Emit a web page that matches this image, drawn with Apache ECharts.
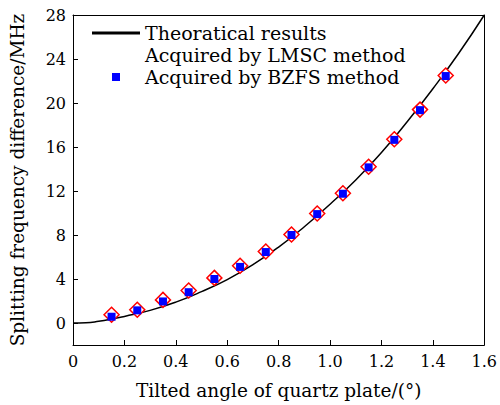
<!DOCTYPE html>
<html>
<head>
<meta charset="utf-8">
<script src="https://cdn.jsdelivr.net/npm/echarts@6/dist/echarts.min.js"></script>
<style>html,body{margin:0;padding:0;background:#fff}#c{width:500px;height:405px}</style>
</head>
<body>
<div id="c"></div>
<script>
const curveX = [0, 0.05, 0.1, 0.15, 0.2, 0.3, 0.4, 0.5, 0.6, 0.7, 0.8, 0.9, 1.0, 1.1, 1.2, 1.3, 1.4, 1.5, 1.6];
const curveY = [0, 0.02, 0.15, 0.35, 0.6, 1.15, 1.9, 2.85, 3.95, 5.3, 6.9, 8.75, 10.8, 13.0, 15.5, 18.3, 21.3, 24.5, 28];
const angles = [0.15, 0.25, 0.35, 0.45, 0.55, 0.65, 0.75, 0.85, 0.95, 1.05, 1.15, 1.25, 1.35, 1.45];
const lmsc = [0.75, 1.2, 2.1, 2.95, 4.1, 5.2, 6.5, 8.05, 9.95, 11.8, 14.2, 16.7, 19.4, 22.5];
const bzfs = [0.57, 1.15, 1.96, 2.8, 4.0, 5.1, 6.45, 8.0, 9.9, 11.75, 14.15, 16.65, 19.35, 22.45];
const yTicks = [0, 4, 8, 12, 16, 20, 24, 28];
const names = ['Theoratical results', 'Acquired by LMSC method', 'Acquired by BZFS method'];

const font = 'DejaVu Serif';
const chart = echarts.init(document.getElementById('c'), null, { renderer: 'svg' });
const frameAxis = { show: true, axisLine: { show: true, onZero: false, lineStyle: { color: '#000', width: 1 } },
  axisTick: { show: false }, axisLabel: { show: false }, splitLine: { show: false } };
chart.setOption({
  animation: false,
  grid: { left: 71, right: 13, top: 15, bottom: 59 },
  legend: {
    orient: 'vertical', left: 86, top: 17, itemWidth: 48, itemHeight: 8, itemGap: 0,
    symbolKeepAspect: true,
    data: [
      { name: names[0], icon: 'path://M0,0h48v3h-48z', itemStyle: { color: '#000' } },
      { name: names[1], itemStyle: { opacity: 0 } },
      { name: names[2], icon: 'path://M0,0h8v8h-8z', itemStyle: { color: '#0000ff', opacity: 1 } }
    ],
    textStyle: { fontFamily: font, fontSize: 19, lineHeight: 22, color: '#000', padding: [0, 0, 0, 0] }
  },
  xAxis: [{
    type: 'value', min: 0, max: 1.6, interval: 0.2,
    name: 'Tilted angle of quartz plate/(°)', nameLocation: 'middle', nameGap: 36,
    nameTextStyle: { fontFamily: font, fontSize: 18.5, color: '#000' },
    axisLine: { show: true, onZero: false, lineStyle: { color: '#000' } },
    axisTick: { show: true, inside: true, length: 5, lineStyle: { color: '#000' } },
    axisLabel: { fontFamily: font, fontSize: 16, color: '#000', margin: 8,
      formatter: v => v === 0 ? '0' : v.toFixed(1) },
    splitLine: { show: false }
  }, Object.assign({ type: 'value', position: 'top', min: 0, max: 1.6 }, frameAxis)],
  yAxis: [{
    type: 'value', min: -2, max: 28,
    name: 'Splitting frequency difference/MHz', nameLocation: 'middle', nameGap: 46,
    nameTextStyle: { fontFamily: font, fontSize: 18.5, color: '#000' },
    axisLine: { show: true, onZero: false, lineStyle: { color: '#000' } },
    axisTick: { show: true, inside: true, length: 5, customValues: yTicks, lineStyle: { color: '#000' } },
    axisLabel: { fontFamily: font, fontSize: 16, color: '#000', margin: 7, customValues: yTicks },
    splitLine: { show: false }
  }, Object.assign({ type: 'value', position: 'right', min: -2, max: 28 }, frameAxis)],
  series: [
    { name: names[0], type: 'line', smooth: true, symbol: 'none', z: 2,
      lineStyle: { color: '#000', width: 1.5 }, itemStyle: { color: '#000' },
      data: curveX.map((x, i) => [x, curveY[i]]) },
    { name: names[1], type: 'scatter', symbol: 'diamond', symbolSize: 15, z: 3,
      itemStyle: { color: '#fff', borderColor: '#ff0000', borderWidth: 1.5, opacity: 1 },
      data: angles.map((x, i) => [x, lmsc[i]]) },
    { name: names[2], type: 'scatter', symbol: 'rect', symbolSize: 8, z: 4,
      itemStyle: { color: '#0000ff', opacity: 1 },
      data: angles.map((x, i) => [x, bzfs[i]]) }
  ]
});
</script>
</body>
</html>
